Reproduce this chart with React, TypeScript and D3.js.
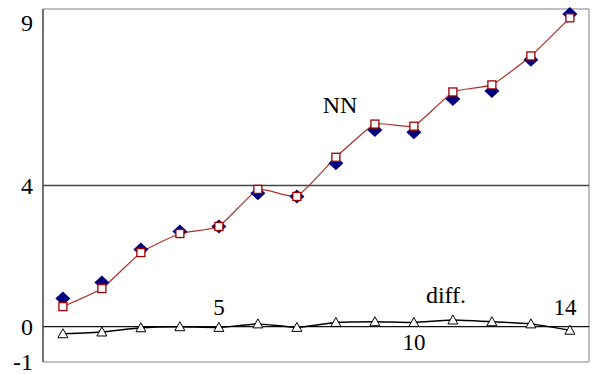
import React, { useEffect, useRef } from "react";
import * as d3 from "d3";

// x positions 1..14
const xs = [1, 2, 3, 4, 5, 6, 7, 8, 9, 10, 11, 12, 13, 14];
// blue diamonds (target)
const targetVals = [0.8, 1.25, 2.19, 2.7, 2.84, 3.78, 3.69, 4.63, 5.57, 5.51, 6.45, 6.68, 7.56, 8.86];
// red squares (NN output)
const nnVals = [0.57, 1.08, 2.1, 2.64, 2.84, 3.89, 3.69, 4.8, 5.74, 5.68, 6.65, 6.85, 7.67, 8.75];
// triangles (difference)
const diffVals = [-0.2, -0.15, -0.03, 0.0, -0.02, 0.08, -0.02, 0.12, 0.14, 0.12, 0.19, 0.14, 0.08, -0.1];
const yTicks = [-1, 0, 4, 9];
const xTickLabels = [
  { v: 5, pos: "above" },
  { v: 10, pos: "below" },
  { v: 14, pos: "above" },
];

export default function App() {
  const ref = useRef<SVGSVGElement>(null);

  useEffect(() => {
    const W = 592, H = 374;
    const m = { left: 43, right: 3, top: 9, bottom: 12 };
    const svg = d3.select(ref.current);
    svg.selectAll("*").remove();

    const x = d3.scaleLinear().domain([0.49, 14.49]).range([m.left, W - m.right]);
    const y = d3.scaleLinear().domain([-1, 9]).range([H - m.bottom, m.top]);
    const font = "Liberation Serif, DejaVu Serif, serif";

    const g = svg.append("g").style("font-family", font);

    // frame
    g.append("line").attr("x1", m.left).attr("x2", W - m.right)
      .attr("y1", y(9)).attr("y2", y(9)).attr("stroke", "#aaa").attr("stroke-width", 1.5);
    g.append("line").attr("x1", m.left).attr("x2", W - m.right)
      .attr("y1", y(-1)).attr("y2", y(-1)).attr("stroke", "#aaa").attr("stroke-width", 1.5);
    g.append("line").attr("x1", W - m.right).attr("x2", W - m.right)
      .attr("y1", y(9)).attr("y2", y(-1)).attr("stroke", "#aaa").attr("stroke-width", 1.5);
    g.append("line").attr("x1", m.left).attr("x2", W - m.right)
      .attr("y1", y(4)).attr("y2", y(4)).attr("stroke", "#444").attr("stroke-width", 1.5);
    g.append("line").attr("x1", m.left).attr("x2", W - m.right)
      .attr("y1", y(0)).attr("y2", y(0)).attr("stroke", "#111").attr("stroke-width", 1.3);
    g.append("line").attr("x1", m.left).attr("x2", m.left)
      .attr("y1", y(9)).attr("y2", y(-1)).attr("stroke", "#444").attr("stroke-width", 1.5);

    // y tick labels
    g.selectAll(".ytick").data(yTicks).join("text")
      .attr("class", "ytick")
      .attr("x", 33)
      .attr("y", (d) => Math.max(y(d), 23) + 8)
      .attr("text-anchor", "end")
      .style("font-family", font).attr("font-size", 24)
      .text((d) => String(d));

    // x tick labels
    g.selectAll(".xtick").data(xTickLabels).join("text")
      .attr("class", "xtick")
      .attr("x", (d) => x(d.v) - (d.v === 14 ? 5 : 0))
      .attr("y", (d) => (d.pos === "above" ? y(0) - 12 : y(0) + 23))
      .attr("text-anchor", "middle")
      .style("font-family", font).attr("font-size", 23)
      .text((d) => String(d.v));

    // series labels
    g.append("text").attr("x", 340).attr("y", 113).attr("text-anchor", "middle")
      .style("font-family", font).attr("font-size", 24).text("NN");
    g.append("text").attr("x", 446).attr("y", 303).attr("text-anchor", "middle")
      .style("font-family", font).attr("font-size", 24).text("diff.");

    const curve = d3.curveCardinal.tension(0.6);

    // diff line
    const diffLine = d3.line<number>().x((_, i) => x(xs[i])).y((d) => y(d)).curve(curve);
    g.append("path").attr("d", diffLine(diffVals)).attr("fill", "none")
      .attr("stroke", "#000").attr("stroke-width", 1.4);

    // NN line
    const nnLine = d3.line<number>().x((_, i) => x(xs[i])).y((d) => y(d)).curve(curve);
    g.append("path").attr("d", nnLine(nnVals)).attr("fill", "none")
      .attr("stroke", "#b03030").attr("stroke-width", 1.2);

    // diamonds
    g.selectAll(".dia").data(targetVals).join("path")
      .attr("class", "dia")
      .attr("d", (d, i) => {
        const cx = x(xs[i]), cy = y(d);
        return `M${cx},${cy - 7}L${cx + 7.5},${cy}L${cx},${cy + 7}L${cx - 7.5},${cy}Z`;
      })
      .attr("fill", "#00007f");

    // squares
    g.selectAll(".sq").data(nnVals).join("rect")
      .attr("class", "sq")
      .attr("x", (_, i) => x(xs[i]) - 4)
      .attr("y", (d) => y(d) - 4)
      .attr("width", 8).attr("height", 8)
      .attr("fill", "#fff").attr("stroke", "#a00000").attr("stroke-width", 1.3);

    // triangles
    g.selectAll(".tri").data(diffVals).join("path")
      .attr("class", "tri")
      .attr("d", (d, i) => {
        const cx = x(xs[i]), cy = y(d);
        return `M${cx},${cy - 5}L${cx + 5},${cy + 4}L${cx - 5},${cy + 4}Z`;
      })
      .attr("fill", "#fff").attr("stroke", "#000").attr("stroke-width", 1);
  }, []);

  return (
    <svg ref={ref} width={592} height={374}
      style={{ position: "absolute", left: 0, top: 0, background: "#fff" }} />
  );
}
